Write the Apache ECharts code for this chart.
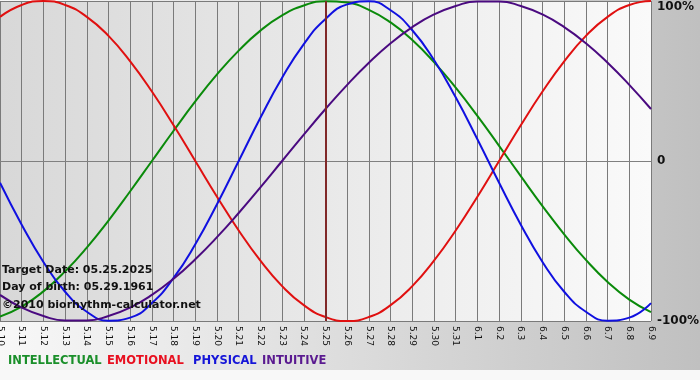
<!DOCTYPE html>
<html><head><meta charset="utf-8">
<script src="https://cdn.jsdelivr.net/npm/echarts@6/dist/echarts.min.js"></script>
<style>html,body{margin:0;padding:0;}#c{width:700px;height:380px;}</style>
</head><body><div id="c"></div>
<script>
const categories = ['5.10','5.11','5.12','5.13','5.14','5.15','5.16','5.17','5.18','5.19','5.20','5.21','5.22','5.23','5.24','5.25','5.26','5.27','5.28','5.29','5.30','5.31','6.1','6.2','6.3','6.4','6.5','6.6','6.7','6.8','6.9'];
const intellectual = [-97.2,-91.0,-81.5,-69.0,-54.1,-37.2,-18.9,0,18.9,37.2,54.1,69.0,81.5,91.0,97.2,99.9,99.0,94.5,86.6,75.6,61.8,45.8,28.2,9.5,-9.5,-28.2,-45.8,-61.8,-75.6,-86.6,-94.5];
const emotional = [90.1,97.5,100,97.5,90.1,78.2,62.3,43.4,22.3,0,-22.3,-43.4,-62.3,-78.2,-90.1,-97.5,-100,-97.5,-90.1,-78.2,-62.3,-43.4,-22.3,0,22.3,43.4,62.3,78.2,90.1,97.5,100];
const physical = [-13.6,-39.8,-63.1,-81.7,-94.2,-99.8,-97.9,-88.8,-73.1,-52.0,-27.0,0,27.0,52.0,73.1,88.8,97.9,99.8,94.2,81.7,63.1,39.8,13.6,-13.6,-39.8,-63.1,-81.7,-94.2,-99.8,-97.9,-88.8];
const intuitive = [-83.7,-91.6,-96.9,-99.7,-99.7,-96.9,-91.6,-83.7,-73.6,-61.4,-47.6,-32.5,-16.5,0,16.5,32.5,47.6,61.4,73.6,83.7,91.6,96.9,99.7,99.7,96.9,91.6,83.7,73.6,61.4,47.6,32.5];
const targetDay = '5.25';
const yTicks = {'100':'\n100%','0':'0','-100':'-100%'};
const seriesNames = ['INTELLECTUAL','EMOTIONAL','PHYSICAL','INTUITIVE'];
const lineColors = ['#0a8a0a','#e01010','#1010e0','#4a0a80'];
const legendColors = ['#1a8f2a','#e81020','#1515d8','#5a1a90'];
const infoLines = ['Target Date: 05.25.2025','Day of birth: 05.29.1961','\u00a92010 biorhythm-calculator.net'];

const chart = echarts.init(document.getElementById('c'));
const dataSets = [intellectual, emotional, physical, intuitive];
const legendX = [8, 107, 193, 262];
const graphics = [
  {type:'rect', left:0, top:370, shape:{width:700,height:10}, style:{fill:'#f8f8f8'}, z:-1},
];
infoLines.forEach((t,i)=>{
  graphics.push({type:'text', left:2, top:[265,282,300][i], z:100,
    style:{text:t, font:'bold 11px "DejaVu Sans"', fill:'#111'}});
});
seriesNames.forEach((n,i)=>{
  graphics.push({type:'text', left:legendX[i], top:355, z:100,
    style:{text:n, font:'bold 11.5px "DejaVu Sans"', fill:legendColors[i]}});
});

chart.setOption({
  animation:false,
  backgroundColor:{type:'linear',x:0,y:0,x2:1,y2:0,colorStops:[{offset:0,color:'#f8f8f8'},{offset:1,color:'#c0c0c0'}]},
  grid:{left:0,right:49,top:1,bottom:59,show:true,borderWidth:0,outerBoundsMode:'none',containLabel:false,
    backgroundColor:{type:'linear',x:0,y:0,x2:1,y2:0,colorStops:[{offset:0,color:'#d8d8d8'},{offset:1,color:'#fafafa'}]}},
  xAxis:{type:'category',data:categories,boundaryGap:false,
    axisLine:{show:true,lineStyle:{color:'#808080',width:1}},
    axisTick:{show:false},
    splitLine:{show:true,lineStyle:{color:'#7a7a7a',width:1}},
    axisLabel:{rotate:-90,interval:0,color:'#111',fontSize:9,fontFamily:'DejaVu Sans',margin:5}},
  yAxis:{type:'value',position:'right',min:-100,max:100,interval:100,
    axisLine:{show:false},axisTick:{show:false},
    splitLine:{show:true,lineStyle:{color:'#7a7a7a',width:1}},
    axisLabel:{formatter:v=>yTicks[String(v)],color:'#111',fontWeight:'bold',fontSize:12,fontFamily:'DejaVu Sans',margin:6,lineHeight:12}},
  graphic:graphics,
  series:seriesNames.map((n,i)=>({
    name:n,type:'line',data:dataSets[i],smooth:true,symbol:'none',
    lineStyle:{color:lineColors[i],width:2},
    markLine: i===0 ? {symbol:'none',silent:true,label:{show:false},
      lineStyle:{color:'#802828',width:2,type:'solid'},data:[{xAxis:targetDay}]} : undefined
  }))
});
</script></body></html>
